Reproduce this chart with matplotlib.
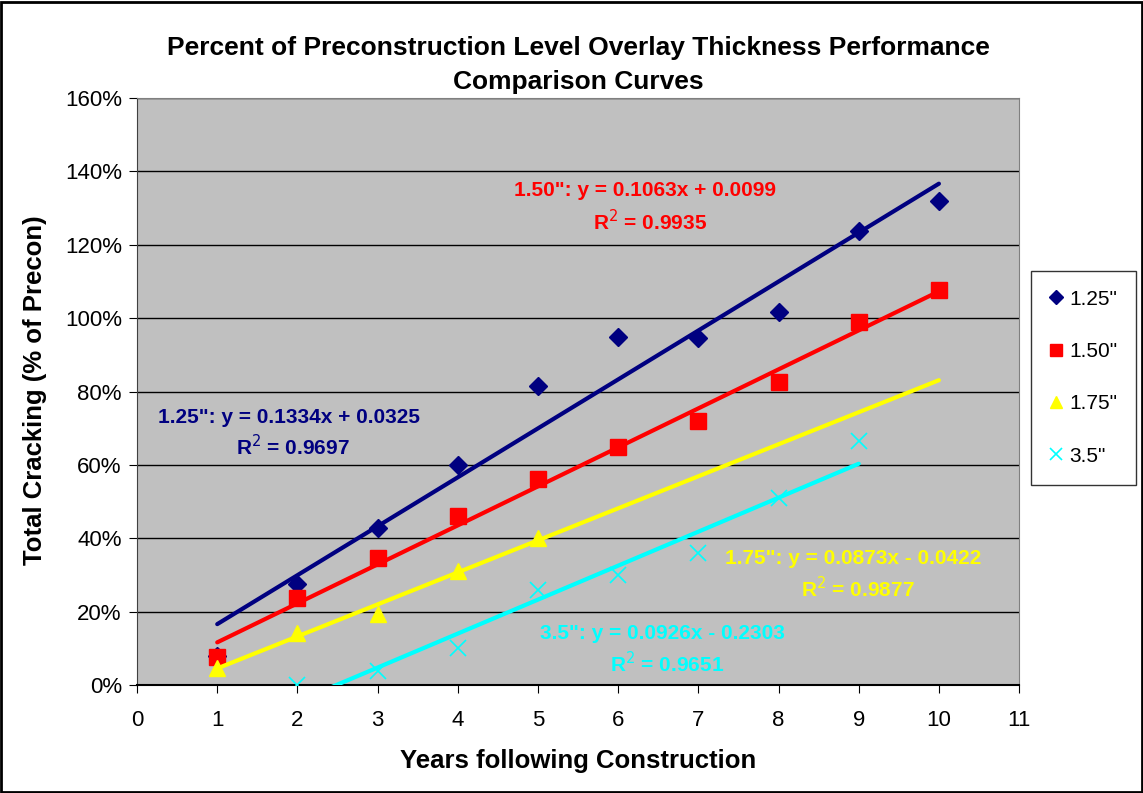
import matplotlib

matplotlib.use("Agg")
import matplotlib.pyplot as plt
import numpy as np
from matplotlib.patches import Rectangle

plt.rcParams["font.family"] = ["Liberation Sans", "DejaVu Sans"]

# Data (fraction of preconstruction level)
years_125 = [1, 2, 3, 4, 5, 6, 7, 8, 9, 10]
crack_125 = [0.08, 0.275, 0.428, 0.60, 0.815, 0.949, 0.946, 1.017, 1.237, 1.319]

years_150 = [1, 2, 3, 4, 5, 6, 7, 8, 9, 10]
crack_150 = [0.076, 0.237, 0.346, 0.46, 0.561, 0.649, 0.72, 0.826, 0.989, 1.077]

years_175 = [1, 2, 3, 4, 5]
crack_175 = [0.046, 0.142, 0.194, 0.31, 0.40]

years_35 = [2, 3, 4, 5, 6, 7, 8, 9]
crack_35 = [0.0, 0.038, 0.10, 0.26, 0.30, 0.36, 0.51, 0.665]

# trendline coefficients as printed on the chart
slope = [0.1334, 0.1063, 0.0873, 0.0926]
intercept = [0.0325, 0.0099, -0.0422, -0.2303]
r2 = [0.9697, 0.9935, 0.9877, 0.9651]
trend_range = [(1, 10), (1, 10), (1, 10), (2, 9)]

labels = ['1.25"', '1.50"', '1.75"', '3.5"']
colors = ["#000080", "#FF0000", "#FFFF00", "#00FFFF"]

fig = plt.figure(figsize=(11.43, 7.93), dpi=100)
fig.patch.set_facecolor("white")
ax = fig.add_axes([0.1199, 0.1362, 0.7717, 0.7402])
ax.set_facecolor("#C0C0C0")

series = [
    (years_125, crack_125, "D", 9, 1),
    (years_150, crack_150, "s", 12, 1),
    (years_175, crack_175, "^", 12, 1),
    (years_35, crack_35, "x", 12, 1.2),
]

handles = []
for i, (xs, ys, m, ms, mew) in enumerate(series):
    (h,) = ax.plot(
        xs, ys, linestyle="none", marker=m, markersize=ms, color=colors[i],
        markeredgewidth=mew, zorder=3 + i, label=labels[i],
    )
    handles.append(h)

for i in range(4):
    x0, x1 = trend_range[i]
    xx = np.array([x0, x1])
    ax.plot(xx, slope[i] * xx + intercept[i], color=colors[i], lw=3,
            solid_capstyle="round", zorder=8)

# trendline labels
lab_pos = [
    ((0.262, 0.730), (1.236, 0.649)),
    ((4.707, 1.349), (5.683, 1.262)),
    ((7.329, 0.346), (8.278, 0.262)),
    ((5.031, 0.139), (5.893, 0.057)),
]
for i in range(4):
    sign = "+" if intercept[i] >= 0 else "-"
    eq = f'{labels[i]}: y = {slope[i]:.4f}x {sign} {abs(intercept[i]):.4f}'
    (p1, p2) = lab_pos[i]
    ax.text(p1[0], p1[1], eq, color=colors[i], fontsize=15, fontweight="bold",
            ha="left", va="center", zorder=10)
    ax.text(p2[0], p2[1], f"R$^{{2}}$ = {r2[i]:.4f}", color=colors[i], fontsize=15,
            fontweight="bold", ha="left", va="center", zorder=10)

ax.set_xlim(0, 11)
ax.set_ylim(0, 1.6)
ax.set_xticks(range(0, 12))
ax.set_yticks(np.arange(0, 1.61, 0.2))
ax.set_yticklabels([f"{int(round(v * 100))}%" for v in np.arange(0, 1.61, 0.2)])
ax.tick_params(labelsize=16, length=6, color="black", pad=5)
ax.tick_params(axis="x", pad=12)
ax.grid(axis="y", color="black", lw=1)
ax.set_axisbelow(True)
for s in ["top", "right"]:
    ax.spines[s].set_color("#808080")
ax.spines["left"].set_color("#404040")
ax.spines["bottom"].set_color("black")
ax.spines["bottom"].set_linewidth(1.5)

fig.text(578 / 1143, 1 - 761 / 793, "Years following Construction",
         ha="center", va="center", fontsize=18.5, fontweight="bold")
fig.text(35 / 1143, 1 - 390 / 793, "Total Cracking (% of Precon)", rotation=90,
         ha="center", va="center", fontsize=18.5, fontweight="bold")

fig.text(578 / 1143, 1 - 48 / 793, "Percent of Preconstruction Level Overlay Thickness Performance",
         ha="center", va="center", fontsize=19, fontweight="bold")
fig.text(578 / 1143, 1 - 82 / 793, "Comparison Curves",
         ha="center", va="center", fontsize=19, fontweight="bold")

leg = fig.legend(handles=handles, loc="upper left",
                 bbox_to_anchor=(1031 / 1143, 1 - 271 / 793), fontsize=15,
                 frameon=True, fancybox=False, edgecolor="black", handlelength=0.6,
                 handletextpad=0.35, labelspacing=1.6, borderpad=0.9, markerscale=0.75,
                 borderaxespad=0)
leg.get_frame().set_linewidth(1)

fig.patches.append(Rectangle((0.001, 0.001), 0.998, 0.996, transform=fig.transFigure,
                             fill=False, edgecolor="black", lw=2))

fig.savefig("out.png", dpi=100)
